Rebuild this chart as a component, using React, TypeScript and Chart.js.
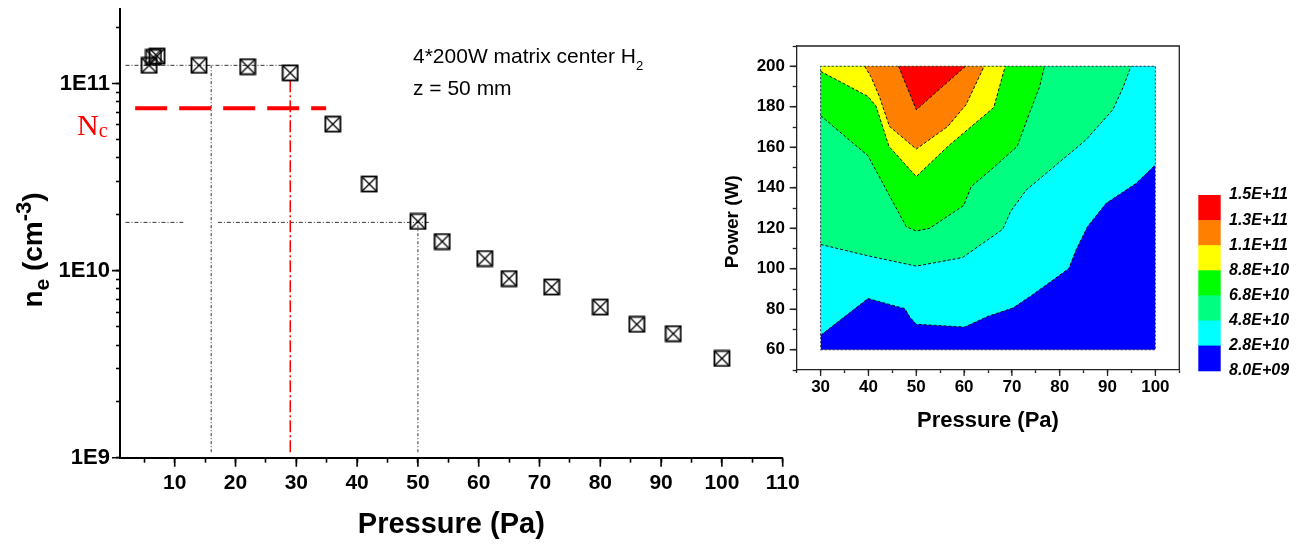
import React, { useEffect, useRef } from 'react';
import { Chart, registerables } from 'chart.js';

Chart.register(...registerables);

const SANS = "'Liberation Sans', Arial, sans-serif";
const SERIF = "'Liberation Serif', 'Times New Roman', serif";

// ---------- Main chart: electron density vs pressure ----------
const PRESSURE_PA = [5.8, 6.5, 7.1, 14, 22, 29, 36, 42, 50, 54, 61, 65, 72, 80, 86, 92, 100];
const DENSITY_CM3 = [1.25e11, 1.38e11, 1.4e11, 1.25e11, 1.23e11, 1.14e11, 6.06e10, 2.9e10, 1.83e10, 1.43e10, 1.16e10, 9.06e9, 8.17e9, 6.38e9, 5.16e9, 4.6e9, 3.39e9];

const NC_VALUE = 7.36e10;
const NC_RANGE = [3.5, 34.9];
const TOP_GUIDE_VALUE = 1.25e11;
const TOP_GUIDE_RANGE = [1.9, 29];
const LOW_GUIDE_VALUE = 1.81e10;
const LOW_GUIDE_RANGE_A = [1.9, 11.4];
const LOW_GUIDE_RANGE_B = [17.1, 51.8];
const GUIDE_P1 = 16;
const GUIDE_P1_RANGE = [1.07e9, 1.25e11];
const GUIDE_P2 = 50;
const GUIDE_P2_RANGE = [1.07e9, 1.81e10];
const RED_GUIDE_P = 29;
const RED_GUIDE_RANGE = [1.07e9, 1.07e11];

const MAIN_X_MAJOR = [10, 20, 30, 40, 50, 60, 70, 80, 90, 100, 110];
const MAIN_X_MINOR = [5, 15, 25, 35, 45, 55, 65, 75, 85, 95, 105];
const MAIN_Y_MAJOR = [1e9, 1e10, 1e11];
const MAIN_Y_LABELS = ['1E9', '1E10', '1E11'];
const MAIN_Y_MINOR = [2e9, 3e9, 4e9, 5e9, 6e9, 7e9, 8e9, 9e9, 2e10, 3e10, 4e10, 5e10, 6e10, 7e10, 8e10, 9e10, 2e11];

// ---------- Inset: contour map of density vs pressure & power ----------
const CONT_P_RANGE = [30, 100];
const CONT_W_RANGE = [60, 200];
const LEVEL_LABELS = ['1.5E+11', '1.3E+11', '1.1E+11', '8.8E+10', '6.8E+10', '4.8E+10', '2.8E+10', '8.0E+09'];
const LEVEL_COLORS = ['#FF0000', '#FF8000', '#FFFF00', '#00FF00', '#00FF80', '#00FFFF', '#0000FF'];

const EDGE_28_P = [30, 39.9, 47.6, 48.7, 50, 60.1, 65, 70.2, 74.4, 81.9, 83.4, 85.8, 89.7, 96, 100];
const EDGE_28_W = [67.1, 85.3, 80.3, 76, 72.6, 71.2, 76.5, 80.6, 87.3, 100.1, 109.2, 120.8, 132.3, 142.2, 151.3];
const EDGE_48_P = [30, 39.9, 50, 56.9, 59.7, 68.1, 69.7, 73.0, 77.2, 85.5, 91.1, 93.2, 94.9];
const EDGE_48_W = [112, 106.4, 101.3, 104.3, 105.6, 119.5, 128.2, 138.9, 147.2, 163.7, 178.5, 189.3, 200];
const EDGE_68_P = [30, 39.9, 47.9, 50, 52.8, 59.9, 61.5, 66.4, 71.1, 73.7, 75.8, 76.8];
const EDGE_68_W = [175.6, 155.8, 120.8, 118.6, 120, 131.2, 140.6, 150.5, 160.4, 177, 190, 200];
const EDGE_88_P = [30, 39.9, 41.6, 44.3, 50, 56.6, 66.2, 68.6];
const EDGE_88_W = [197.5, 185.1, 180.2, 160.4, 145.5, 160.4, 179.6, 200];
const EDGE_110_P = [39.2, 40.5, 42.3, 44.4, 50, 56.6, 60.4, 64.2];
const EDGE_110_W = [200, 195, 185, 170.3, 159.1, 170.3, 181, 200];
const EDGE_130_P = [46.3, 50, 60.3];
const EDGE_130_W = [200, 178.5, 200];

const CONT_X_MAJOR = [30, 40, 50, 60, 70, 80, 90, 100];
const CONT_X_MINOR = [25, 35, 45, 55, 65, 75, 85, 95, 105];
const CONT_Y_MAJOR = [60, 80, 100, 120, 140, 160, 180, 200];
const CONT_Y_MINOR = [50, 70, 90, 110, 130, 150, 170, 190, 210];

function pts(xs: number[], ys: number[]) {
  return xs.map((x, i) => ({ x, y: ys[i] }));
}
function hline(range: number[], value: number) {
  return [{ x: range[0], y: value }, { x: range[1], y: value }];
}
function vline(x: number, range: number[]) {
  return [{ x, y: range[0] }, { x, y: range[1] }];
}

function makeMarker(): HTMLCanvasElement {
  const c = document.createElement('canvas');
  c.width = 18;
  c.height = 18;
  const g = c.getContext('2d')!;
  g.strokeStyle = '#000';
  g.lineWidth = 1.8;
  g.strokeRect(1.5, 1.5, 15, 15);
  g.lineWidth = 1.3;
  g.beginPath();
  g.moveTo(2.2, 2.2);
  g.lineTo(15.8, 15.8);
  g.moveTo(15.8, 2.2);
  g.lineTo(2.2, 15.8);
  g.stroke();
  return c;
}

type Part = { t: string; size: number; dy: number; font?: string; weight?: string };

function drawParts(ctx: CanvasRenderingContext2D, parts: Part[], x: number, y: number, center: boolean) {
  const widths = parts.map((p) => {
    ctx.font = `${p.weight || ''} ${p.size}px ${p.font || SANS}`;
    return ctx.measureText(p.t).width;
  });
  const total = widths.reduce((a, b) => a + b, 0);
  let cx = center ? x - total / 2 : x;
  ctx.textAlign = 'left';
  ctx.textBaseline = 'alphabetic';
  parts.forEach((p, i) => {
    ctx.font = `${p.weight || ''} ${p.size}px ${p.font || SANS}`;
    ctx.fillText(p.t, cx, y + p.dy);
    cx += widths[i];
  });
}

const mainDecor = {
  id: 'mainDecor',
  afterDraw(chart: any) {
    const { ctx, chartArea: a, scales } = chart;
    const xs = scales.x;
    const ys = scales.y;
    ctx.save();
    ctx.strokeStyle = '#000';
    ctx.lineWidth = 1.6;
    ctx.beginPath();
    MAIN_X_MAJOR.forEach((v) => {
      const px = xs.getPixelForValue(v);
      ctx.moveTo(px, a.bottom);
      ctx.lineTo(px, a.bottom + 9);
    });
    MAIN_Y_MAJOR.forEach((v) => {
      const py = ys.getPixelForValue(v);
      ctx.moveTo(a.left, py);
      ctx.lineTo(a.left - 8, py);
    });
    ctx.stroke();

    // y-axis title n_e (cm^-3)
    ctx.fillStyle = '#000';
    ctx.save();
    ctx.translate(42, 250);
    ctx.rotate(-Math.PI / 2);
    drawParts(ctx, [
      { t: 'n', size: 28, dy: 0, weight: 'bold' },
      { t: 'e', size: 21, dy: 7, weight: 'bold' },
      { t: ' (cm', size: 28, dy: 0, weight: 'bold' },
      { t: '-3', size: 22, dy: -11, weight: 'bold' },
      { t: ')', size: 28, dy: 0, weight: 'bold' },
    ], 0, 0, true);
    ctx.restore();

    // annotation
    drawParts(ctx, [
      { t: '4*200W matrix center H', size: 21, dy: 0 },
      { t: '2', size: 13, dy: 7 },
    ], 413, 63, false);
    drawParts(ctx, [{ t: 'z = 50 mm', size: 21, dy: 0 }], 413, 95, false);

    // Nc label
    ctx.fillStyle = '#FF0000';
    drawParts(ctx, [
      { t: 'N', size: 30, dy: 0, font: SERIF },
      { t: 'c', size: 20, dy: 2, font: SERIF },
    ], 77, 135, false);
    ctx.restore();
  },
};

const contourDecor = {
  id: 'contourDecor',
  afterDraw(chart: any) {
    const { ctx, chartArea: a, scales } = chart;
    const xs = scales.x;
    const ys = scales.y;
    ctx.save();
    ctx.strokeStyle = '#222';
    ctx.lineWidth = 1.3;
    ctx.beginPath();
    ctx.moveTo(a.left, a.top);
    ctx.lineTo(a.right, a.top);
    ctx.lineTo(a.right, a.bottom);
    CONT_X_MAJOR.forEach((v) => {
      const px = xs.getPixelForValue(v);
      ctx.moveTo(px, a.bottom);
      ctx.lineTo(px, a.bottom + 6);
    });
    CONT_Y_MAJOR.forEach((v) => {
      const py = ys.getPixelForValue(v);
      ctx.moveTo(a.left, py);
      ctx.lineTo(a.left - 7, py);
    });
    ctx.stroke();

    // Power (W) title
    ctx.fillStyle = '#000';
    ctx.save();
    ctx.translate(48, 221.7);
    ctx.rotate(-Math.PI / 2);
    drawParts(ctx, [{ t: 'Power (W)', size: 19, dy: 0, weight: 'bold' }], 0, 0, true);
    ctx.restore();

    // color bar legend
    const barL = a.right + 19;
    const barW = 22.4;
    const barTop = 195;
    const step = 25.1;
    LEVEL_COLORS.forEach((c, i) => {
      ctx.fillStyle = c;
      ctx.fillRect(barL, barTop + i * step, barW, step + 0.6);
    });
    ctx.fillStyle = '#000';
    ctx.font = `italic bold 16px ${SANS}`;
    ctx.textAlign = 'left';
    ctx.textBaseline = 'middle';
    LEVEL_LABELS.forEach((t, i) => ctx.fillText(t, a.right + 49.7, barTop + i * step));
    ctx.restore();
  },
};

function zeroPad(ax: any) {
  ax.paddingLeft = 0;
  ax.paddingRight = 0;
  ax.paddingTop = 0;
  ax.paddingBottom = 0;
}

export default function App() {
  const mainRef = useRef<HTMLCanvasElement>(null);
  const contRef = useRef<HTMLCanvasElement>(null);

  useEffect(() => {
    const marker = makeMarker();
    const guide = { borderColor: '#333', borderWidth: 1, pointRadius: 0, borderDash: [4, 2, 1, 2], fill: false, tension: 0 };

    const main = new Chart(mainRef.current!, {
      type: 'line',
      data: {
        datasets: [
          { data: pts(PRESSURE_PA, DENSITY_CM3), showLine: false, pointStyle: marker as any, pointRadius: 8, order: 0 },
          { data: hline(TOP_GUIDE_RANGE, TOP_GUIDE_VALUE), ...guide, order: 2 },
          { data: hline(LOW_GUIDE_RANGE_A, LOW_GUIDE_VALUE), ...guide, order: 2 },
          { data: hline(LOW_GUIDE_RANGE_B, LOW_GUIDE_VALUE), ...guide, order: 2 },
          { data: vline(GUIDE_P1, GUIDE_P1_RANGE), ...guide, borderDash: [3, 2, 1, 2], order: 2 },
          { data: vline(GUIDE_P2, GUIDE_P2_RANGE), ...guide, borderDash: [3, 2, 1, 2], order: 2 },
          { data: hline(NC_RANGE, NC_VALUE), borderColor: '#FF0000', borderWidth: 4, borderDash: [32, 12], pointRadius: 0, fill: false, order: 1 },
          { data: vline(RED_GUIDE_P, RED_GUIDE_RANGE), borderColor: '#FF0000', borderWidth: 1.5, borderDash: [12, 3, 2, 3], pointRadius: 0, fill: false, order: 1 },
        ] as any,
      },
      options: {
        animation: false,
        responsive: false,
        layout: { padding: { left: 0, top: 8, right: 37.3, bottom: 0 } },
        plugins: { legend: { display: false }, tooltip: { enabled: false } },
        scales: {
          x: {
            type: 'linear',
            min: 1,
            max: 110,
            afterBuildTicks: (ax: any) => {
              ax.ticks = [...MAIN_X_MINOR, ...MAIN_X_MAJOR].sort((p, q) => p - q).map((v) => ({ value: v }));
            },
            afterFit: (ax: any) => {
              ax.height = 87.3;
              zeroPad(ax);
            },
            grid: { display: true, drawOnChartArea: false, drawTicks: true, tickLength: 5, tickColor: '#000', tickWidth: 1.6, color: '#000' },
            border: { display: true, color: '#000', width: 2 },
            ticks: {
              autoSkip: false,
              maxRotation: 0,
              padding: 7.7,
              color: '#000',
              font: { family: SANS, size: 21, weight: 'bold' },
              callback: (v: any) => (MAIN_X_MAJOR.indexOf(Number(v)) >= 0 ? String(v) : ''),
            },
            title: {
              display: true,
              text: 'Pressure (Pa)',
              color: '#000',
              font: { family: SANS, size: 29, weight: 'bold' },
              padding: { top: 0, bottom: 2.6 },
            },
          },
          y: {
            type: 'logarithmic',
            min: 1e9,
            max: 2.5e11,
            afterBuildTicks: (ax: any) => {
              ax.ticks = [...MAIN_Y_MAJOR, ...MAIN_Y_MINOR].sort((p, q) => p - q).map((v) => ({ value: v }));
            },
            afterFit: (ax: any) => {
              ax.width = 120;
              zeroPad(ax);
            },
            grid: { display: true, drawOnChartArea: false, drawTicks: true, tickLength: 4, tickColor: '#000', tickWidth: 1.6, color: '#000' },
            border: { display: true, color: '#000', width: 2 },
            ticks: {
              autoSkip: false,
              padding: 6,
              color: '#000',
              font: { family: SANS, size: 22, weight: 'bold' },
              callback: (v: any) => {
                const i = MAIN_Y_MAJOR.indexOf(Number(v));
                return i >= 0 ? MAIN_Y_LABELS[i] : '';
              },
            },
          },
        },
      } as any,
      plugins: [mainDecor],
    });

    const edge = { borderColor: '#111', borderWidth: 1, borderDash: [3, 2], pointRadius: 0, tension: 0 };
    const cont = new Chart(contRef.current!, {
      type: 'line',
      data: {
        datasets: [
          { data: hline(CONT_P_RANGE, CONT_W_RANGE[0]), fill: { value: CONT_W_RANGE[1] }, backgroundColor: LEVEL_COLORS[6], borderWidth: 0, pointRadius: 0, order: 10 },
          { data: pts(EDGE_28_P, EDGE_28_W), fill: { value: CONT_W_RANGE[1] }, backgroundColor: LEVEL_COLORS[5], ...edge, order: 9 },
          { data: pts(EDGE_48_P, EDGE_48_W), fill: { value: CONT_W_RANGE[1] }, backgroundColor: LEVEL_COLORS[4], ...edge, order: 8 },
          { data: pts(EDGE_68_P, EDGE_68_W), fill: { value: CONT_W_RANGE[1] }, backgroundColor: LEVEL_COLORS[3], ...edge, order: 7 },
          { data: pts(EDGE_88_P, EDGE_88_W), fill: { value: CONT_W_RANGE[1] }, backgroundColor: LEVEL_COLORS[2], ...edge, order: 6 },
          { data: pts(EDGE_110_P, EDGE_110_W), fill: { value: CONT_W_RANGE[1] }, backgroundColor: LEVEL_COLORS[1], ...edge, order: 5 },
          { data: pts(EDGE_130_P, EDGE_130_W), fill: { value: CONT_W_RANGE[1] }, backgroundColor: LEVEL_COLORS[0], ...edge, order: 4 },
          {
            data: [
              { x: CONT_P_RANGE[0], y: CONT_W_RANGE[0] },
              { x: CONT_P_RANGE[1], y: CONT_W_RANGE[0] },
              { x: CONT_P_RANGE[1], y: CONT_W_RANGE[1] },
              { x: CONT_P_RANGE[0], y: CONT_W_RANGE[1] },
              { x: CONT_P_RANGE[0], y: CONT_W_RANGE[0] },
            ],
            fill: false,
            borderColor: '#333',
            borderWidth: 1,
            borderDash: [2, 2],
            pointRadius: 0,
            tension: 0,
            order: 0,
          },
        ] as any,
      },
      options: {
        animation: false,
        responsive: false,
        layout: { padding: { left: 0, top: 46, right: 127.7, bottom: 0 } },
        plugins: { legend: { display: false }, tooltip: { enabled: false } },
        scales: {
          x: {
            type: 'linear',
            min: 25,
            max: 105,
            afterBuildTicks: (ax: any) => {
              ax.ticks = [...CONT_X_MINOR, ...CONT_X_MAJOR].sort((p, q) => p - q).map((v) => ({ value: v }));
            },
            afterFit: (ax: any) => {
              ax.height = 175;
              zeroPad(ax);
            },
            grid: { display: true, drawOnChartArea: false, drawTicks: true, tickLength: 3, tickColor: '#222', tickWidth: 1.3, color: '#222' },
            border: { display: true, color: '#222', width: 1.3 },
            ticks: {
              autoSkip: false,
              maxRotation: 0,
              padding: 4.3,
              color: '#000',
              font: { family: SANS, size: 17, weight: 'bold' },
              callback: (v: any) => (CONT_X_MAJOR.indexOf(Number(v)) >= 0 ? String(v) : ''),
            },
            title: {
              display: true,
              text: 'Pressure (Pa)',
              color: '#000',
              font: { family: SANS, size: 22, weight: 'bold' },
              padding: { top: 0, bottom: 110.8 },
            },
          },
          y: {
            type: 'linear',
            min: 50,
            max: 210,
            afterBuildTicks: (ax: any) => {
              ax.ticks = [...CONT_Y_MINOR, ...CONT_Y_MAJOR].sort((p, q) => p - q).map((v) => ({ value: v }));
            },
            afterFit: (ax: any) => {
              ax.width = 106.7;
              zeroPad(ax);
            },
            grid: { display: true, drawOnChartArea: false, drawTicks: true, tickLength: 4, tickColor: '#222', tickWidth: 1.3, color: '#222' },
            border: { display: true, color: '#222', width: 1.3 },
            ticks: {
              autoSkip: false,
              padding: 7.7,
              color: '#000',
              font: { family: SANS, size: 17, weight: 'bold' },
              callback: (v: any) => (CONT_Y_MAJOR.indexOf(Number(v)) >= 0 ? String(v) : ''),
            },
          },
        },
      } as any,
      plugins: [contourDecor],
    });

    return () => {
      main.destroy();
      cont.destroy();
    };
  }, []);

  return (
    <div style={{ position: 'fixed', left: 0, top: 0, width: 1307, height: 545, background: '#fff', overflow: 'hidden' }}>
      <canvas ref={mainRef} width={820} height={545} style={{ position: 'absolute', left: 0, top: 0, width: 820, height: 545 }} />
      <canvas ref={contRef} width={617} height={545} style={{ position: 'absolute', left: 690, top: 0, width: 617, height: 545 }} />
    </div>
  );
}
